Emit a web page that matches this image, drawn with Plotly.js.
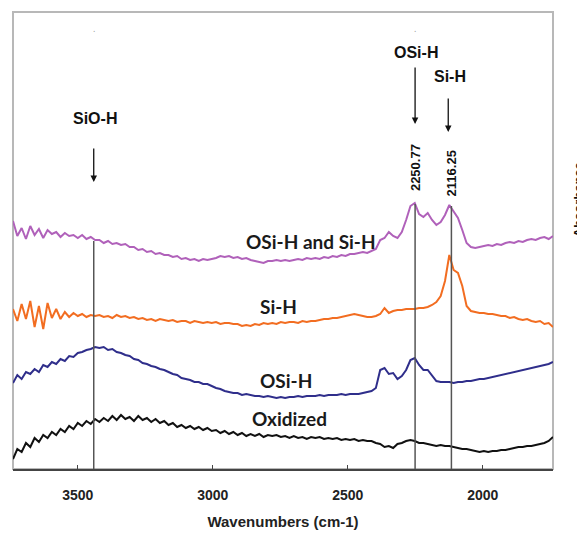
<!DOCTYPE html>
<html>
<head>
<meta charset="utf-8">
<script src="https://cdn.plot.ly/plotly-3.0.1.min.js"></script>
<style>html,body{margin:0;padding:0;background:#fff;}#chart{width:577px;height:533px;}</style>
</head>
<body>
<div id="chart"></div>
<script>
// Wavenumber grid: starts at 3740 cm-1, step -16 cm-1 (126 points)
const wnStart = 3740;
const wnStep = -16;

// Offset absorbance (arbitrary units)
const oSiH_and_SiH = [248,233,241,230,243,234,240,231,239,235,
237,232,236,233,234,231,234,230,232,229,
229,226,228,225,226,224,225,222,222,219,
220,217,218,215,216,214,214,212,213,210,
211,209,210,208,210,209,210,211,213,212,
213,211,212,210,211,209,208,207,206,208,
208,209,208,209,208,209,210,209,211,210,
211,210,212,211,213,212,214,213,215,215,
216,217,216,218,220,229,231,237,233,231,
237,249,263,266,255,252,256,249,244,247,
254,264,257,251,239,226,222,221,222,223,
224,223,225,224,226,227,226,228,227,229,
230,229,231,232,230,233];

const siH = [160,148,165,150,168,142,163,140,166,151,
160,150,157,152,156,153,155,152,154,153,
154,152,153,151,154,152,153,151,152,150,
151,149,150,148,150,149,148,149,147,148,
148,146,148,147,146,147,146,147,145,146,
146,145,145,143,144,143,145,144,146,145,
146,145,147,146,147,147,146,148,147,148,
148,149,150,150,151,151,152,153,154,155,
154,153,152,152,153,155,161,156,158,159,
159,160,160,160,161,161,162,164,167,173,
188,214,199,196,183,163,158,157,156,156,
155,155,154,153,153,151,152,150,149,150,
148,147,148,145,146,142];

const oSiH = [86,94,90,97,95,100,97,104,102,107,
105,110,108,113,112,116,117,119,120,122,
121,122,119,120,117,116,114,113,110,109,
106,105,103,102,100,99,97,95,94,91,
90,89,87,87,85,85,83,81,80,78,
77,76,76,74,75,74,73,73,72,73,
72,71,72,71,72,72,73,72,73,73,
73,74,73,74,74,74,75,74,75,75,
75,76,77,78,81,99,101,95,96,90,
93,99,109,111,104,99,99,93,88,87,
87,87,86,87,87,88,88,89,90,90,
91,92,93,94,95,96,97,98,99,100,
101,102,103,104,105,107];

const oxidized = [10,20,17,26,22,31,27,34,31,37,
34,40,37,43,40,46,43,48,45,50,
47,51,48,53,49,54,50,52,48,53,
49,51,47,50,46,48,44,46,42,44,
41,43,40,42,39,41,38,39,36,38,
35,37,34,36,33,35,33,35,32,34,
33,34,32,33,31,33,31,32,30,32,
31,32,30,31,30,31,29,30,29,30,
28,29,28,28,26,25,22,23,21,25,
26,28,29,28,26,26,25,24,23,24,
23,23,22,21,20,20,19,18,17,18,
17,18,18,19,19,20,21,22,22,23,
23,24,25,26,28,32];

const seriesNames = ['OSi-H and Si-H', 'Si-H', 'OSi-H', 'Oxidized'];
const seriesColors = ['#b061ba', '#f26d21', '#2f2e8b', '#111111'];
const seriesData = [oSiH_and_SiH, siH, oSiH, oxidized];

// Peak markers (cm-1)
const markerLines = [3441, 2250.77, 2116.25];
const peakLabels = ['2250.77', '2116.25'];
const tickValues = [3500, 3000, 2500, 2000];

const traces = seriesData.map((d, k) => ({
  type: 'scatter', mode: 'lines',
  x0: wnStart, dx: wnStep, y: d,
  name: seriesNames[k],
  line: {color: seriesColors[k], width: 2},
  hoverinfo: 'skip'
}));

function purpleAt(w) {
  const idx = Math.round((w - wnStart) / wnStep);
  return oSiH_and_SiH[Math.max(0, Math.min(oSiH_and_SiH.length - 1, idx))];
}

const shapes = [
  {type: 'rect', xref: 'paper', yref: 'paper', x0: 0, x1: 1, y0: 0, y1: 1,
   line: {color: '#b8b8b8', width: 2}, layer: 'below'}
];
markerLines.forEach(w => {
  shapes.push({type: 'line', xref: 'x', yref: 'y', x0: w, x1: w, y0: 0, y1: purpleAt(w) - 1,
    line: {color: '#555555', width: 1.5}});
});

const boldArial = {family: 'Liberation Sans, Arial, sans-serif', size: 16, color: '#111', weight: 'bold'};
const curveFont = {family: 'Lato, Open Sans, sans-serif', size: 19, color: '#1a1a1a', weight: 'bold'};

const annotations = [
  // stray dots at the top
  {x: 3441, y: 441, text: '.', showarrow: false, font: {size: 9, color: '#999'}},
  {x: 2250.77, y: 441, text: '.', showarrow: false, font: {size: 9, color: '#999'}},
  // group labels with arrows
  {x: 3438, y: 351, text: 'SiO-H', showarrow: false, font: boldArial},
  {x: 3441, y: 287, ax: 3441, ay: 322, axref: 'x', ayref: 'y', text: '', showarrow: true,
   arrowhead: 2, arrowsize: 1, arrowwidth: 1.3, arrowcolor: '#111'},
  {x: 2248, y: 417, text: 'OSi-H', showarrow: false, font: boldArial},
  {x: 2250.77, y: 345, ax: 2250.77, ay: 403, axref: 'x', ayref: 'y', text: '', showarrow: true,
   arrowhead: 2, arrowsize: 1, arrowwidth: 1.3, arrowcolor: '#111'},
  {x: 2122, y: 393, text: 'Si-H', showarrow: false, font: boldArial},
  {x: 2128, y: 337, ax: 2128, ay: 372, axref: 'x', ayref: 'y', text: '', showarrow: true,
   arrowhead: 2, arrowsize: 1, arrowwidth: 1.3, arrowcolor: '#111'},
  // rotated peak labels
  {x: markerLines[1], y: 301, text: peakLabels[0], textangle: -90, showarrow: false,
   font: {family: 'Liberation Sans, Arial, sans-serif', size: 13, color: '#111', weight: 'bold'}},
  {x: markerLines[2], y: 296, text: peakLabels[1], textangle: -90, showarrow: false,
   font: {family: 'Liberation Sans, Arial, sans-serif', size: 13, color: '#111', weight: 'bold'}},
  // curve labels
  {x: 2637, y: 228, text: seriesNames[0], showarrow: false, font: curveFont},
  {x: 2756, y: 163, text: seriesNames[1], showarrow: false, font: curveFont},
  {x: 2730, y: 89, text: seriesNames[2], showarrow: false, font: curveFont},
  {x: 2715, y: 51, text: seriesNames[3], showarrow: false, font: curveFont},
  // clipped axis title at right edge
  {xref: 'paper', yref: 'paper', x: 1.0296, y: 0.589, xanchor: 'left', text: 'Absorbance',
   textangle: -90, showarrow: false,
   font: {family: 'Liberation Sans, Arial, sans-serif', size: 13, color: '#111', weight: 'bold'}}
];

const layout = {
  width: 577, height: 533,
  margin: {l: 13, r: 24, t: 12, b: 64, pad: 0},
  paper_bgcolor: '#ffffff', plot_bgcolor: '#ffffff',
  showlegend: false,
  xaxis: {
    range: [3740, 1740], tickvals: tickValues, ticks: 'inside', ticklen: 4, tickwidth: 1.3,
    tickcolor: '#444', showline: true, linecolor: '#444', linewidth: 1.5,
    showgrid: false, zeroline: false, ticklabelstandoff: 13,
    tickfont: {family: 'Liberation Sans, Arial, sans-serif', size: 14, color: '#222', weight: 'bold'},
    title: {text: 'Wavenumbers (cm-1)', standoff: 14,
      font: {family: 'Liberation Sans, Arial, sans-serif', size: 15, color: '#222', weight: 'bold'}}
  },
  yaxis: {range: [0, 457], visible: false, showgrid: false, zeroline: false},
  shapes: shapes,
  annotations: annotations
};

Plotly.newPlot('chart', traces, layout, {staticPlot: true, displayModeBar: false});
</script>
</body>
</html>
